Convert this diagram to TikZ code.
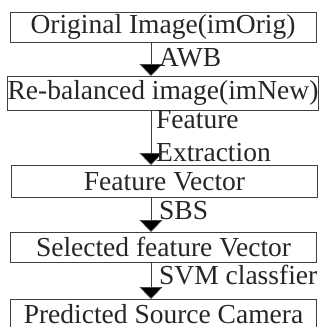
\documentclass[tikz,border=0pt]{standalone}
\usepackage{fontspec}
\setmainfont{Liberation Serif}
\usetikzlibrary{arrows.meta}
\begin{document}
\begin{tikzpicture}[x=1pt,y=1pt,
  font=\fontsize{27.5}{33}\selectfont,
  stage/.style={draw=black!75,line width=.8pt,text=black!85,inner sep=0pt,
    minimum width=306pt,anchor=north},
  flow/.style={draw=black!75,line width=.7pt,
    -{Triangle[width=23pt,length=12pt,fill=black]}},
  tag/.style={text=black!85,inner sep=0pt,anchor=base west,align=left}]
\useasboundingbox (0,0) rectangle (321,-327);
\coordinate (axis) at (151,0);
% stages
\node[stage,minimum height=30pt] (orig)    at (163,-12)  {Original Image(imOrig)};
\node[stage,minimum height=34pt] (rebal)   at (163,-76)  {Re-balanced image(imNew)};
\node[stage,minimum height=32pt] (featvec) at (164.5,-165) {Feature Vector};
\node[stage,minimum height=30pt] (selvec)  at (163.5,-232) {Selected feature Vector};
\node[stage,minimum height=30pt] (camera)  at (163.5,-299) {Predicted Source Camera};
% steps
\draw[flow] (orig.south -| axis)    -- (rebal.north -| axis);
\draw[flow] (rebal.south -| axis)   -- (featvec.north -| axis);
\draw[flow] (featvec.south -| axis) -- (selvec.north -| axis);
\draw[flow] (selvec.south -| axis)  -- (camera.north -| axis);
\node[tag] (awb) at (159,-66)  {AWB};
\node[tag] (fex) at (156,-161) {Feature\\Extraction};
\node[tag] (sbs) at (159,-219) {SBS};
\node[tag] (svm) at (159,-284) {SVM classfier};
\end{tikzpicture}
\end{document}
